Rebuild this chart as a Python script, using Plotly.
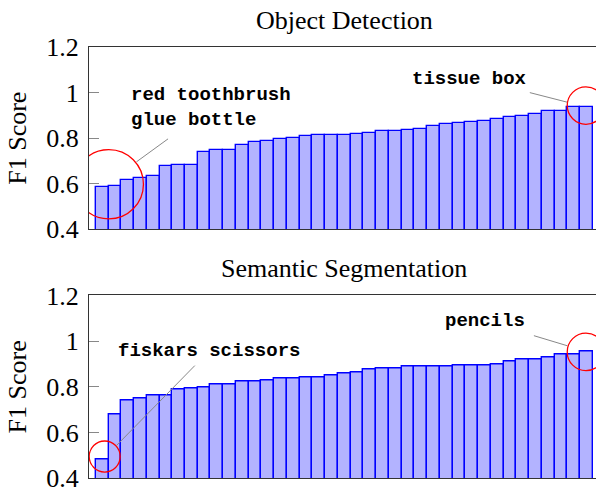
import plotly.graph_objects as go

# ---- data (sorted F1 scores per class) ----
det_scores = [0.584, 0.589, 0.616, 0.624, 0.632, 0.678, 0.680, 0.680, 0.740, 0.746,
              0.750, 0.772, 0.781, 0.786, 0.795, 0.801, 0.811, 0.814, 0.814, 0.814,
              0.818, 0.824, 0.830, 0.830, 0.835, 0.839, 0.852, 0.862, 0.868, 0.873,
              0.877, 0.883, 0.893, 0.896, 0.908, 0.921, 0.921, 0.935, 0.938]
seg_scores = [0.480, 0.680, 0.741, 0.748, 0.763, 0.763, 0.788, 0.794, 0.798, 0.811,
              0.811, 0.823, 0.823, 0.826, 0.836, 0.838, 0.839, 0.840, 0.849, 0.859,
              0.862, 0.878, 0.880, 0.881, 0.888, 0.890, 0.890, 0.890, 0.894, 0.894,
              0.894, 0.899, 0.909, 0.918, 0.919, 0.928, 0.943, 0.943, 0.953]
titles = ["Object Detection", "Semantic Segmentation"]
det_low_labels = ["red toothbrush", "glue bottle"]
det_high_label = "tissue box"
seg_low_label = "fiskars scissors"
seg_high_label = "pencils"
y_ticks = [0.4, 0.6, 0.8, 1.0, 1.2]
y_tick_text = ["0.4", "0.6", "0.8", "1", "1.2"]

SERIF = "Liberation Serif"
MONO = "Liberation Mono"
FILL = "rgb(179,179,255)"
EDGE = "rgb(0,0,255)"

fig = go.Figure()
for i, (scores, xa, ya) in enumerate([(det_scores, "x", "y"), (seg_scores, "x2", "y2")]):
    fig.add_trace(go.Bar(
        x=list(range(len(scores))), y=scores, xaxis=xa, yaxis=ya,
        marker=dict(color=FILL, line=dict(color=EDGE, width=1.4)),
        width=1.0, showlegend=False, hoverinfo="skip"))

n = len(det_scores)
xrange = [-1.03, n - 0.26]
axis_line = "#333333"
common_x = dict(range=xrange, showticklabels=False, ticks="", showgrid=False,
                zeroline=False, showline=True, linecolor=axis_line, linewidth=1,
                mirror=True, automargin=False)
common_y = dict(range=[0.4, 1.2], tickvals=y_ticks, ticktext=y_tick_text,
                ticks="inside", ticklen=10, tickcolor="#888888", tickwidth=1,
                ticklabelstandoff=4, ticklabeloverflow="allow",
                showgrid=False, zeroline=False, showline=True, linecolor=axis_line,
                linewidth=1, mirror=False, automargin=False,
                tickfont=dict(family=SERIF, size=26, color="black"),
                title=dict(text="F1 Score", font=dict(family=SERIF, size=26, color="black"),
                           standoff=12))

fig.update_layout(
    width=596, height=490,
    margin=dict(l=89, r=0, t=0, b=0, autoexpand=False),
    paper_bgcolor="white", plot_bgcolor="white",
    barmode="overlay", bargap=0,
    xaxis=dict(domain=[0, 1], anchor="y", **common_x),
    yaxis=dict(domain=[0.532, 0.904], anchor="x", **common_y),
    xaxis2=dict(domain=[0, 1], anchor="y2", **common_x),
    yaxis2=dict(domain=[0.024, 0.397], anchor="x2", **common_y),
)

# panel titles
for t, xr, yr in [(titles[0], "x", "y domain"), (titles[1], "x2", "y2 domain")]:
    fig.add_annotation(text=t, xref=xr, yref=yr, x=19, y=1, yanchor="bottom",
                       showarrow=False, yshift=10,
                       font=dict(family=SERIF, size=26, color="black"))

mono_font = dict(family=MONO, size=19, color="black")
# class-name labels
fig.add_annotation(text="<b>" + "<br>".join(det_low_labels) + "</b>", xref="x", yref="y",
                   x=2.1, y=0.935, xanchor="left", yanchor="middle", align="left",
                   showarrow=False, font=mono_font)
fig.add_annotation(text="<b>" + det_high_label + "</b>", xref="x", yref="y",
                   x=28.77, y=1.06, xanchor="center", yanchor="middle",
                   showarrow=False, font=mono_font)
fig.add_annotation(text="<b>" + seg_low_label + "</b>", xref="x2", yref="y2",
                   x=8.41, y=0.955, xanchor="center", yanchor="middle",
                   showarrow=False, font=mono_font)
fig.add_annotation(text="<b>" + seg_high_label + "</b>", xref="x2", yref="y2",
                   x=30.06, y=1.09, xanchor="center", yanchor="middle",
                   showarrow=False, font=mono_font)

# highlight circles (center index, center value, radius in index units, radius in value units)
circles = [("x", "y", 0.52, 0.598, 2.72, 0.152),
           ("x", "y", 37.95, 0.943, 1.467, 0.082),
           ("x2", "y2", 0.2, 0.495, 1.216, 0.068),
           ("x2", "y2", 37.95, 0.953, 1.467, 0.082)]
for xr, yr, cx, cy, rx, ry in circles:
    fig.add_shape(type="circle", xref=xr, yref=yr, x0=cx - rx, x1=cx + rx,
                  y0=cy - ry, y1=cy + ry, line=dict(color="red", width=1.3))

# leader lines
leaders = [("x", "y", 2.69, 0.696, 5.17, 0.797),
           ("x", "y", 33.55, 1.0, 36.48, 0.958),
           ("x2", "y2", 7.27, 0.893, 1.12, 0.543),
           ("x2", "y2", 33.87, 1.024, 36.48, 0.98)]
for xr, yr, xa0, ya0, xa1, ya1 in leaders:
    fig.add_shape(type="line", xref=xr, yref=yr, x0=xa0, y0=ya0, x1=xa1, y1=ya1,
                  line=dict(color="#888888", width=1))

fig.write_html("out.html", config={"displayModeBar": False},
               post_script="document.body.style.margin='0';document.body.style.overflow='hidden';")
